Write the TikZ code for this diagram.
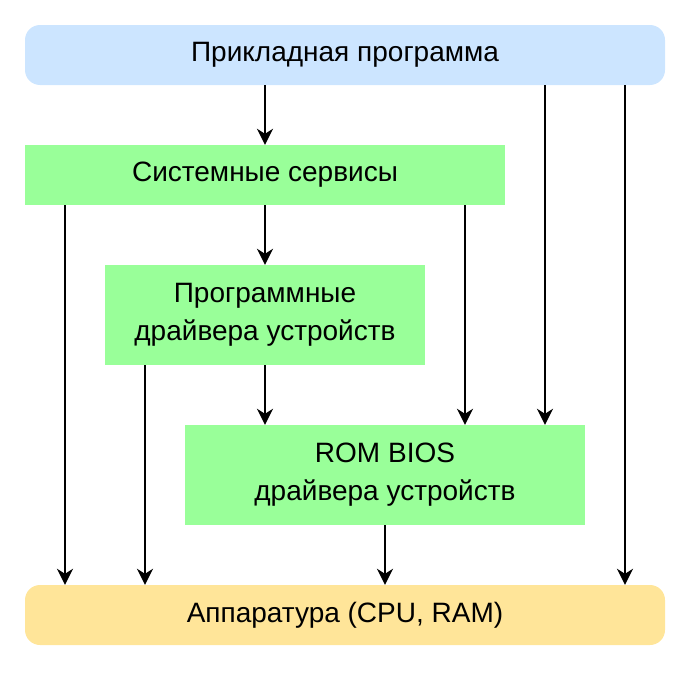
\documentclass[tikz,border=0pt]{standalone}
\usepackage{fontspec}
\setmainfont{Liberation Sans}
\usetikzlibrary{arrows.meta}
\definecolor{appblue}{RGB}{204,229,255}
\definecolor{midgreen}{RGB}{153,255,153}
\definecolor{hwyellow}{RGB}{255,229,153}
\begin{document}
\begin{tikzpicture}[x=1pt,y=-1pt,
  box/.style={draw=none,minimum width=#1,inner sep=0pt,align=center,font=\fontsize{28}{38}\selectfont},
  arr/.style={-{Stealth[length=16pt,width=16pt,inset=5pt]},line width=2pt}]
\useasboundingbox (0,0) rectangle (688,688);
\node[box=640pt,fill=appblue,minimum height=60pt,rounded corners=15pt] (app) at (345,55) {Прикладная программа};
\node[box=480pt,fill=midgreen,minimum height=60pt] (sys) at (265,175) {Системные сервисы};
\node[box=320pt,fill=midgreen,minimum height=100pt] (drv) at (265,315) {Программные\\драйвера устройств};
\node[box=400pt,fill=midgreen,minimum height=100pt] (bios) at (385,475) {ROM BIOS\\драйвера устройств};
\node[box=640pt,fill=hwyellow,minimum height=60pt,rounded corners=15pt] (hw) at (345,615) {Аппаратура (CPU, RAM)};
\draw[arr] (app.south -| 265,0) -- (sys.north -| 265,0);
\draw[arr] (app.south -| 545,0) -- (bios.north -| 545,0);
\draw[arr] (app.south -| 625,0) -- (hw.north -| 625,0);
\draw[arr] (sys.south -| 265,0) -- (drv.north -| 265,0);
\draw[arr] (sys.south -| 65,0) -- (hw.north -| 65,0);
\draw[arr] (sys.south -| 465,0) -- (bios.north -| 465,0);
\draw[arr] (drv.south -| 145,0) -- (hw.north -| 145,0);
\draw[arr] (drv.south -| 265,0) -- (bios.north -| 265,0);
\draw[arr] (bios.south -| 385,0) -- (hw.north -| 385,0);
\end{tikzpicture}
\end{document}
